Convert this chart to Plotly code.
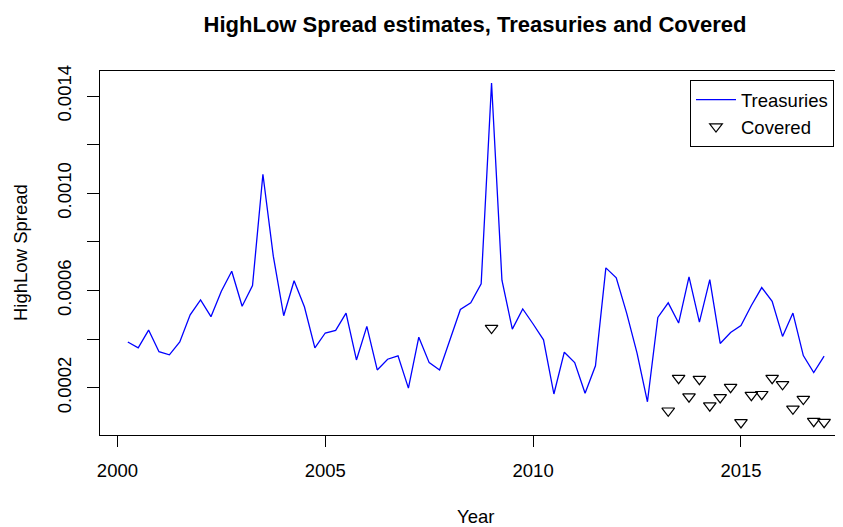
import plotly.graph_objects as go

# ---- data ----
treas_years = [
    2000.25, 2000.50, 2000.75, 2001.00, 2001.25, 2001.50, 2001.75, 2002.00,
    2002.25, 2002.50, 2002.75, 2003.00, 2003.25, 2003.50, 2003.75, 2004.00,
    2004.25, 2004.50, 2004.75, 2005.00, 2005.25, 2005.50, 2005.75, 2006.00,
    2006.25, 2006.50, 2006.75, 2007.00, 2007.25, 2007.50, 2007.75, 2008.00,
    2008.25, 2008.50, 2008.75, 2009.00, 2009.25, 2009.50, 2009.75, 2010.00,
    2010.25, 2010.50, 2010.75, 2011.00, 2011.25, 2011.50, 2011.75, 2012.00,
    2012.25, 2012.50, 2012.75, 2013.00, 2013.25, 2013.50, 2013.75, 2014.00,
    2014.25, 2014.50, 2014.75, 2015.00, 2015.25, 2015.50, 2015.75, 2016.00,
    2016.25, 2016.50, 2016.75, 2017.00,
]
treas_values = [
    0.000388, 0.000364, 0.000437, 0.000348, 0.000335, 0.000388, 0.000500, 0.000561, 0.000492, 0.000597,
    0.000679, 0.000535, 0.000620, 0.001078, 0.000741, 0.000496, 0.000640, 0.000532, 0.000364, 0.000425,
    0.000436, 0.000507, 0.000314, 0.000452, 0.000273, 0.000317, 0.000331, 0.000198, 0.000408, 0.000303,
    0.000273, 0.000397, 0.000522, 0.000549, 0.000627, 0.001454, 0.000642, 0.000441, 0.000524, 0.000462,
    0.000397, 0.000174, 0.000346, 0.000303, 0.000177, 0.000290, 0.000693, 0.000652, 0.000507, 0.000342,
    0.000142, 0.000489, 0.000549, 0.000466, 0.000656, 0.000470, 0.000645, 0.000382, 0.000427, 0.000456,
    0.000538, 0.000612, 0.000555, 0.000411, 0.000507, 0.000332, 0.000262, 0.000330,
]
covered_years = [
    2009.00, 2013.25, 2013.50, 2013.75, 2014.00, 2014.25, 2014.50, 2014.75,
    2015.00, 2015.25, 2015.50, 2015.75, 2016.00, 2016.25, 2016.50, 2016.75, 2017.00,
]
covered_values = [
    0.000445, 0.000105, 0.000239, 0.000163, 0.000235, 0.000126, 0.000160, 0.000202,
    0.000057, 0.000169, 0.000173, 0.000239, 0.000214, 0.000113, 0.000153, 0.000062, 0.000058,
]
x_ticks = [2000, 2005, 2010, 2015]
y_ticks = [0.0002, 0.0004, 0.0006, 0.0008, 0.0010, 0.0012, 0.0014]
y_tick_text = ["0.0002", "", "0.0006", "", "0.0010", "", "0.0014"]

FONT = "Liberation Sans, Arial, Helvetica, sans-serif"

# page is rendered with an 8px body offset; layout below compensates
W, H = 845, 527
L, T, B = 92, 63, 100
PW = W - L
PH = H - T - B

fig = go.Figure()
fig.add_trace(go.Scatter(
    x=treas_years, y=treas_values, mode="lines", name="Treasuries",
    line=dict(color="#0000FF", width=1.3),
))
fig.add_trace(go.Scatter(
    x=covered_years, y=covered_values, mode="markers", name="Covered",
    marker=dict(symbol="triangle-down-open", size=11, color="black",
                line=dict(color="black", width=1.2)),
))

fig.update_layout(
    width=W, height=H,
    margin=dict(l=L, r=0, t=T, b=B),
    paper_bgcolor="white", plot_bgcolor="white",
    font=dict(family=FONT, size=18.5, color="black"),
    title=dict(text="<b>HighLow Spread estimates, Treasuries and Covered</b>",
               x=467 / W, xref="container", xanchor="center",
               y=1 - 16 / H, yref="container", yanchor="middle",
               font=dict(family=FONT, size=22, color="black")),
    showlegend=True,
    legend=dict(x=(826 - L) / PW, xanchor="right", y=1 - 9 / PH, yanchor="top",
                bordercolor="black", borderwidth=1, bgcolor="white",
                itemwidth=40,
                font=dict(family=FONT, size=18.5), tracegroupgap=0),
    xaxis=dict(range=[1999.581, 1999.581 + PW / 41.57], tickvals=x_ticks,
               ticks="outside", ticklen=11, tickwidth=1, tickcolor="black",
               showgrid=False, zeroline=False, showline=True, linecolor="black",
               linewidth=1.3, mirror=True, ticklabelstandoff=8,
               tickfont=dict(size=18.5)),
    yaxis=dict(range=[0.0000053, 0.001503], tickvals=y_ticks, ticktext=y_tick_text,
               ticks="outside", ticklen=12, tickwidth=1, tickcolor="black",
               tickangle=-90, showgrid=False, zeroline=False, showline=True,
               linecolor="black", linewidth=1.3, mirror=False,
               ticklabelstandoff=8, tickfont=dict(size=18.5)),
    annotations=[
        dict(text="Year", xref="paper", yref="paper", x=(467 - L) / PW,
             y=-81 / PH, xanchor="center", yanchor="middle",
             showarrow=False, font=dict(family=FONT, size=18.5)),
        dict(text="HighLow Spread", xref="paper", yref="paper", x=(12 - L) / PW,
             y=0.5, xanchor="center", yanchor="middle", textangle=-90,
             showarrow=False, font=dict(family=FONT, size=18.5)),
    ],
)

fig.write_html("out.html")
